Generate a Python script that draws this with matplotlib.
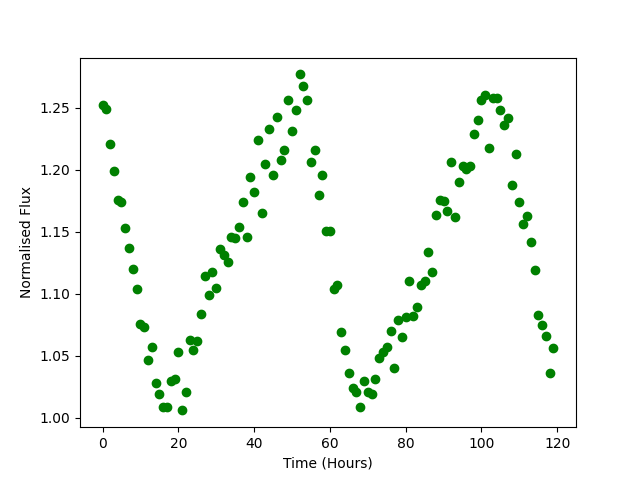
import matplotlib
matplotlib.use('Agg')
import matplotlib.pyplot as plt

# time in hours, one sample per hour
time = list(range(120))

flux = [1.252, 1.249, 1.221, 1.199, 1.176, 1.174, 1.153, 1.137, 1.120, 1.104,
        1.076, 1.073, 1.047, 1.057, 1.028, 1.019, 1.009, 1.009, 1.030, 1.031,
        1.053, 1.006, 1.021, 1.063, 1.055, 1.062, 1.084, 1.114, 1.099, 1.118,
        1.105, 1.136, 1.131, 1.126, 1.146, 1.145, 1.154, 1.174, 1.146, 1.194,
        1.182, 1.224, 1.165, 1.205, 1.233, 1.196, 1.243, 1.208, 1.216, 1.256,
        1.231, 1.248, 1.277, 1.268, 1.256, 1.206, 1.216, 1.180, 1.196, 1.151,
        1.151, 1.104, 1.107, 1.069, 1.055, 1.036, 1.024, 1.021, 1.009, 1.030,
        1.021, 1.019, 1.031, 1.048, 1.053, 1.057, 1.070, 1.040, 1.079, 1.065,
        1.081, 1.110, 1.082, 1.089, 1.107, 1.110, 1.134, 1.118, 1.164, 1.176,
        1.175, 1.167, 1.206, 1.162, 1.190, 1.203, 1.201, 1.203, 1.229, 1.240,
        1.256, 1.260, 1.218, 1.258, 1.258, 1.248, 1.236, 1.242, 1.188, 1.213,
        1.174, 1.156, 1.163, 1.142, 1.119, 1.083, 1.075, 1.066, 1.036, 1.056]

plt.figure(figsize=(6.4, 4.8), dpi=100)
plt.plot(time, flux, 'o', color='green')
plt.xlabel('Time (Hours)')
plt.ylabel('Normalised Flux')
plt.savefig('out.png')
